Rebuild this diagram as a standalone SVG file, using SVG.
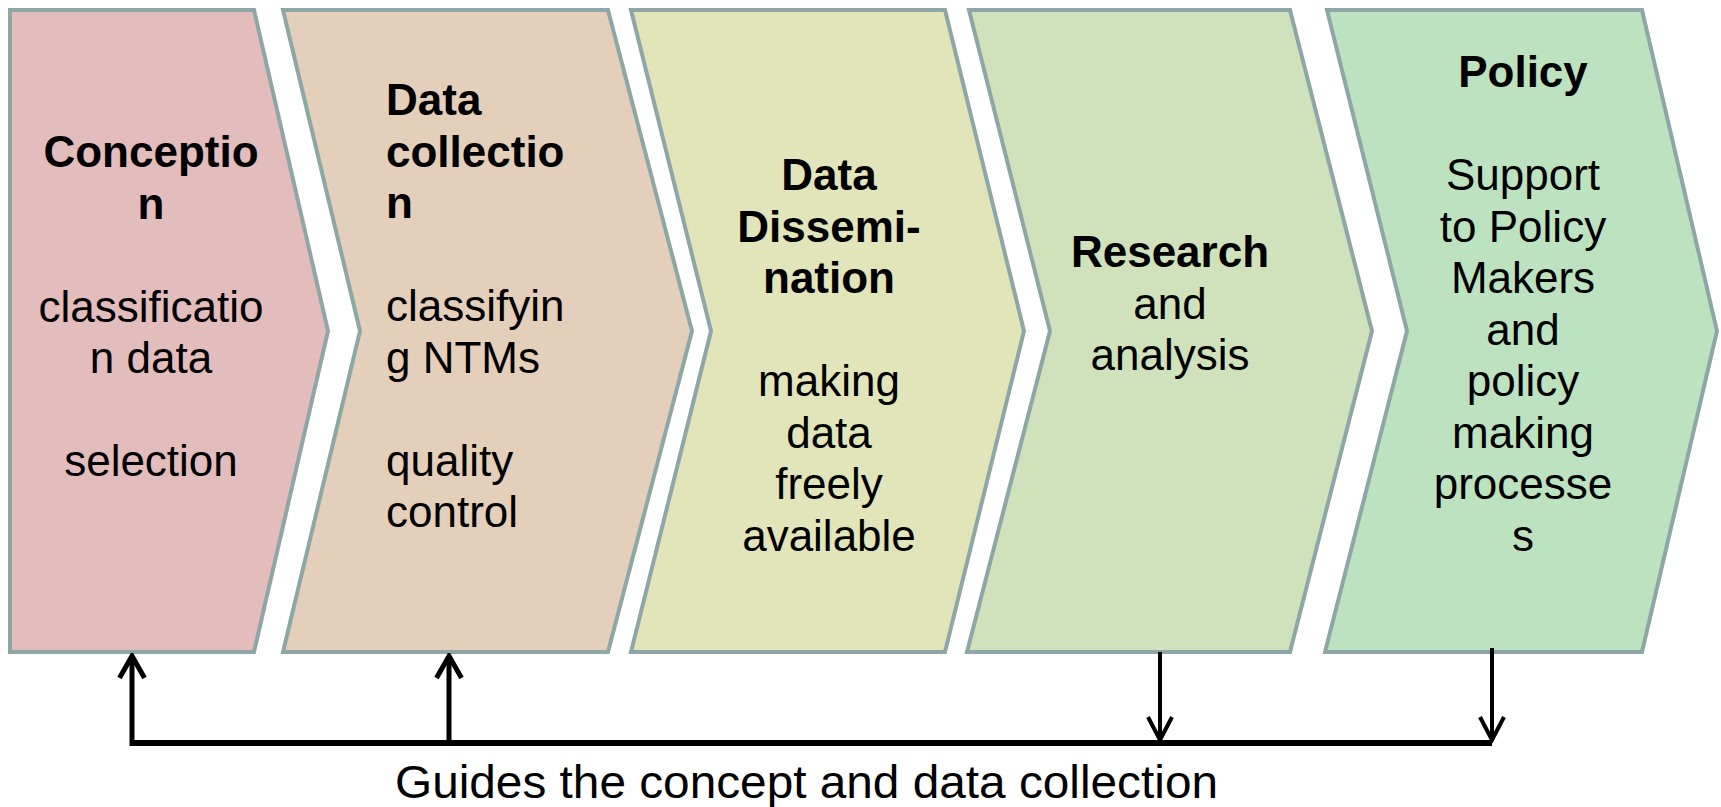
<svg xmlns="http://www.w3.org/2000/svg" width="1721" height="807" viewBox="0 0 1721 807">
<style>
.chev{stroke:#8ea7a6;stroke-width:4;stroke-linejoin:miter}
.t{font-family:"Liberation Sans",Arial,sans-serif;font-size:44px;fill:#000}
.b{font-weight:bold}
.c{text-anchor:middle}
.conn{stroke:#000;fill:none}
</style>
<defs>
<marker id="arrUp" viewBox="0 0 28 30" refX="25" refY="15" markerWidth="28" markerHeight="30" markerUnits="userSpaceOnUse" orient="auto">
<path d="M3,2.5 L25,15 L3,27.5" fill="none" stroke="#000" stroke-width="5"/>
</marker>
<marker id="arrDown" viewBox="0 0 28 28" refX="25" refY="14" markerWidth="28" markerHeight="28" markerUnits="userSpaceOnUse" orient="auto">
<path d="M2,2 L25,14 L2,26" fill="none" stroke="#000" stroke-width="4"/>
</marker>
</defs>
<rect width="1721" height="807" fill="#fff"/>

<g id="node-conception">
<polygon class="chev" fill="#e3bcbc" points="10,10 254,10 328,331 254,652 10,652"/>
<text class="t c" x="151" y="167"><tspan class="b" x="151">Conceptio</tspan><tspan class="b" x="151" dy="51.5">n</tspan><tspan x="151" dy="103">classificatio</tspan><tspan x="151" dy="51.5">n data</tspan><tspan x="151" dy="103">selection</tspan></text>
</g>

<g id="node-data-collection">
<polygon class="chev" fill="#e3cfba" points="283,10 608,10 692,331 608,652 283,652 360,331"/>
<text class="t" x="386" y="115"><tspan class="b" x="386">Data</tspan><tspan class="b" x="386" dy="51.5">collectio</tspan><tspan class="b" x="386" dy="51.5">n</tspan><tspan x="386" dy="103">classifyin</tspan><tspan x="386" dy="51.5">g NTMs</tspan><tspan x="386" dy="103">quality</tspan><tspan x="386" dy="51.5">control</tspan></text>
</g>

<g id="node-data-dissemination">
<polygon class="chev" fill="#e2e4ba" points="631,10 945,10 1024,331 945,652 631,652 711,331"/>
<text class="t c" x="829" y="190"><tspan class="b" x="829">Data</tspan><tspan class="b" x="829" dy="51.5">Dissemi-</tspan><tspan class="b" x="829" dy="51.5">nation</tspan><tspan x="829" dy="103">making</tspan><tspan x="829" dy="51.5">data</tspan><tspan x="829" dy="51.5">freely</tspan><tspan x="829" dy="51.5">available</tspan></text>
</g>

<g id="node-research">
<polygon class="chev" fill="#cfe2bc" points="969,10 1290,10 1372,331 1290,652 967,652 1050,331"/>
<text class="t c" x="1170" y="267"><tspan class="b" x="1170">Research</tspan><tspan x="1170" dy="51.5">and</tspan><tspan x="1170" dy="51.5">analysis</tspan></text>
</g>

<g id="node-policy">
<polygon class="chev" fill="#bde2bf" points="1327,10 1642,10 1717,331 1642,652 1325,652 1407,331"/>
<text class="t c" x="1523" y="87"><tspan class="b" x="1523">Policy</tspan><tspan x="1523" dy="103">Support</tspan><tspan x="1523" dy="51.5">to Policy</tspan><tspan x="1523" dy="51.5">Makers</tspan><tspan x="1523" dy="51.5">and</tspan><tspan x="1523" dy="51.5">policy</tspan><tspan x="1523" dy="51.5">making</tspan><tspan x="1523" dy="51.5">processe</tspan><tspan x="1523" dy="51.5">s</tspan></text>
</g>

<g id="connectors">
<line class="conn" x1="130" y1="743" x2="1492" y2="743" stroke-width="6"/>
<line class="conn" x1="132" y1="746" x2="132" y2="656" stroke-width="5" marker-end="url(#arrUp)"/>
<line class="conn" x1="449" y1="743" x2="449" y2="656" stroke-width="5" marker-end="url(#arrUp)"/>
<line class="conn" x1="1160" y1="652" x2="1160" y2="740" stroke-width="4" marker-end="url(#arrDown)"/>
<line class="conn" x1="1492" y1="648" x2="1492" y2="740" stroke-width="4" marker-end="url(#arrDown)"/>
</g>

<g id="label-guides">
<text class="t" x="395" y="798" style="font-size:46px" textLength="823" lengthAdjust="spacingAndGlyphs">Guides the concept and data collection</text>
</g>
</svg>
